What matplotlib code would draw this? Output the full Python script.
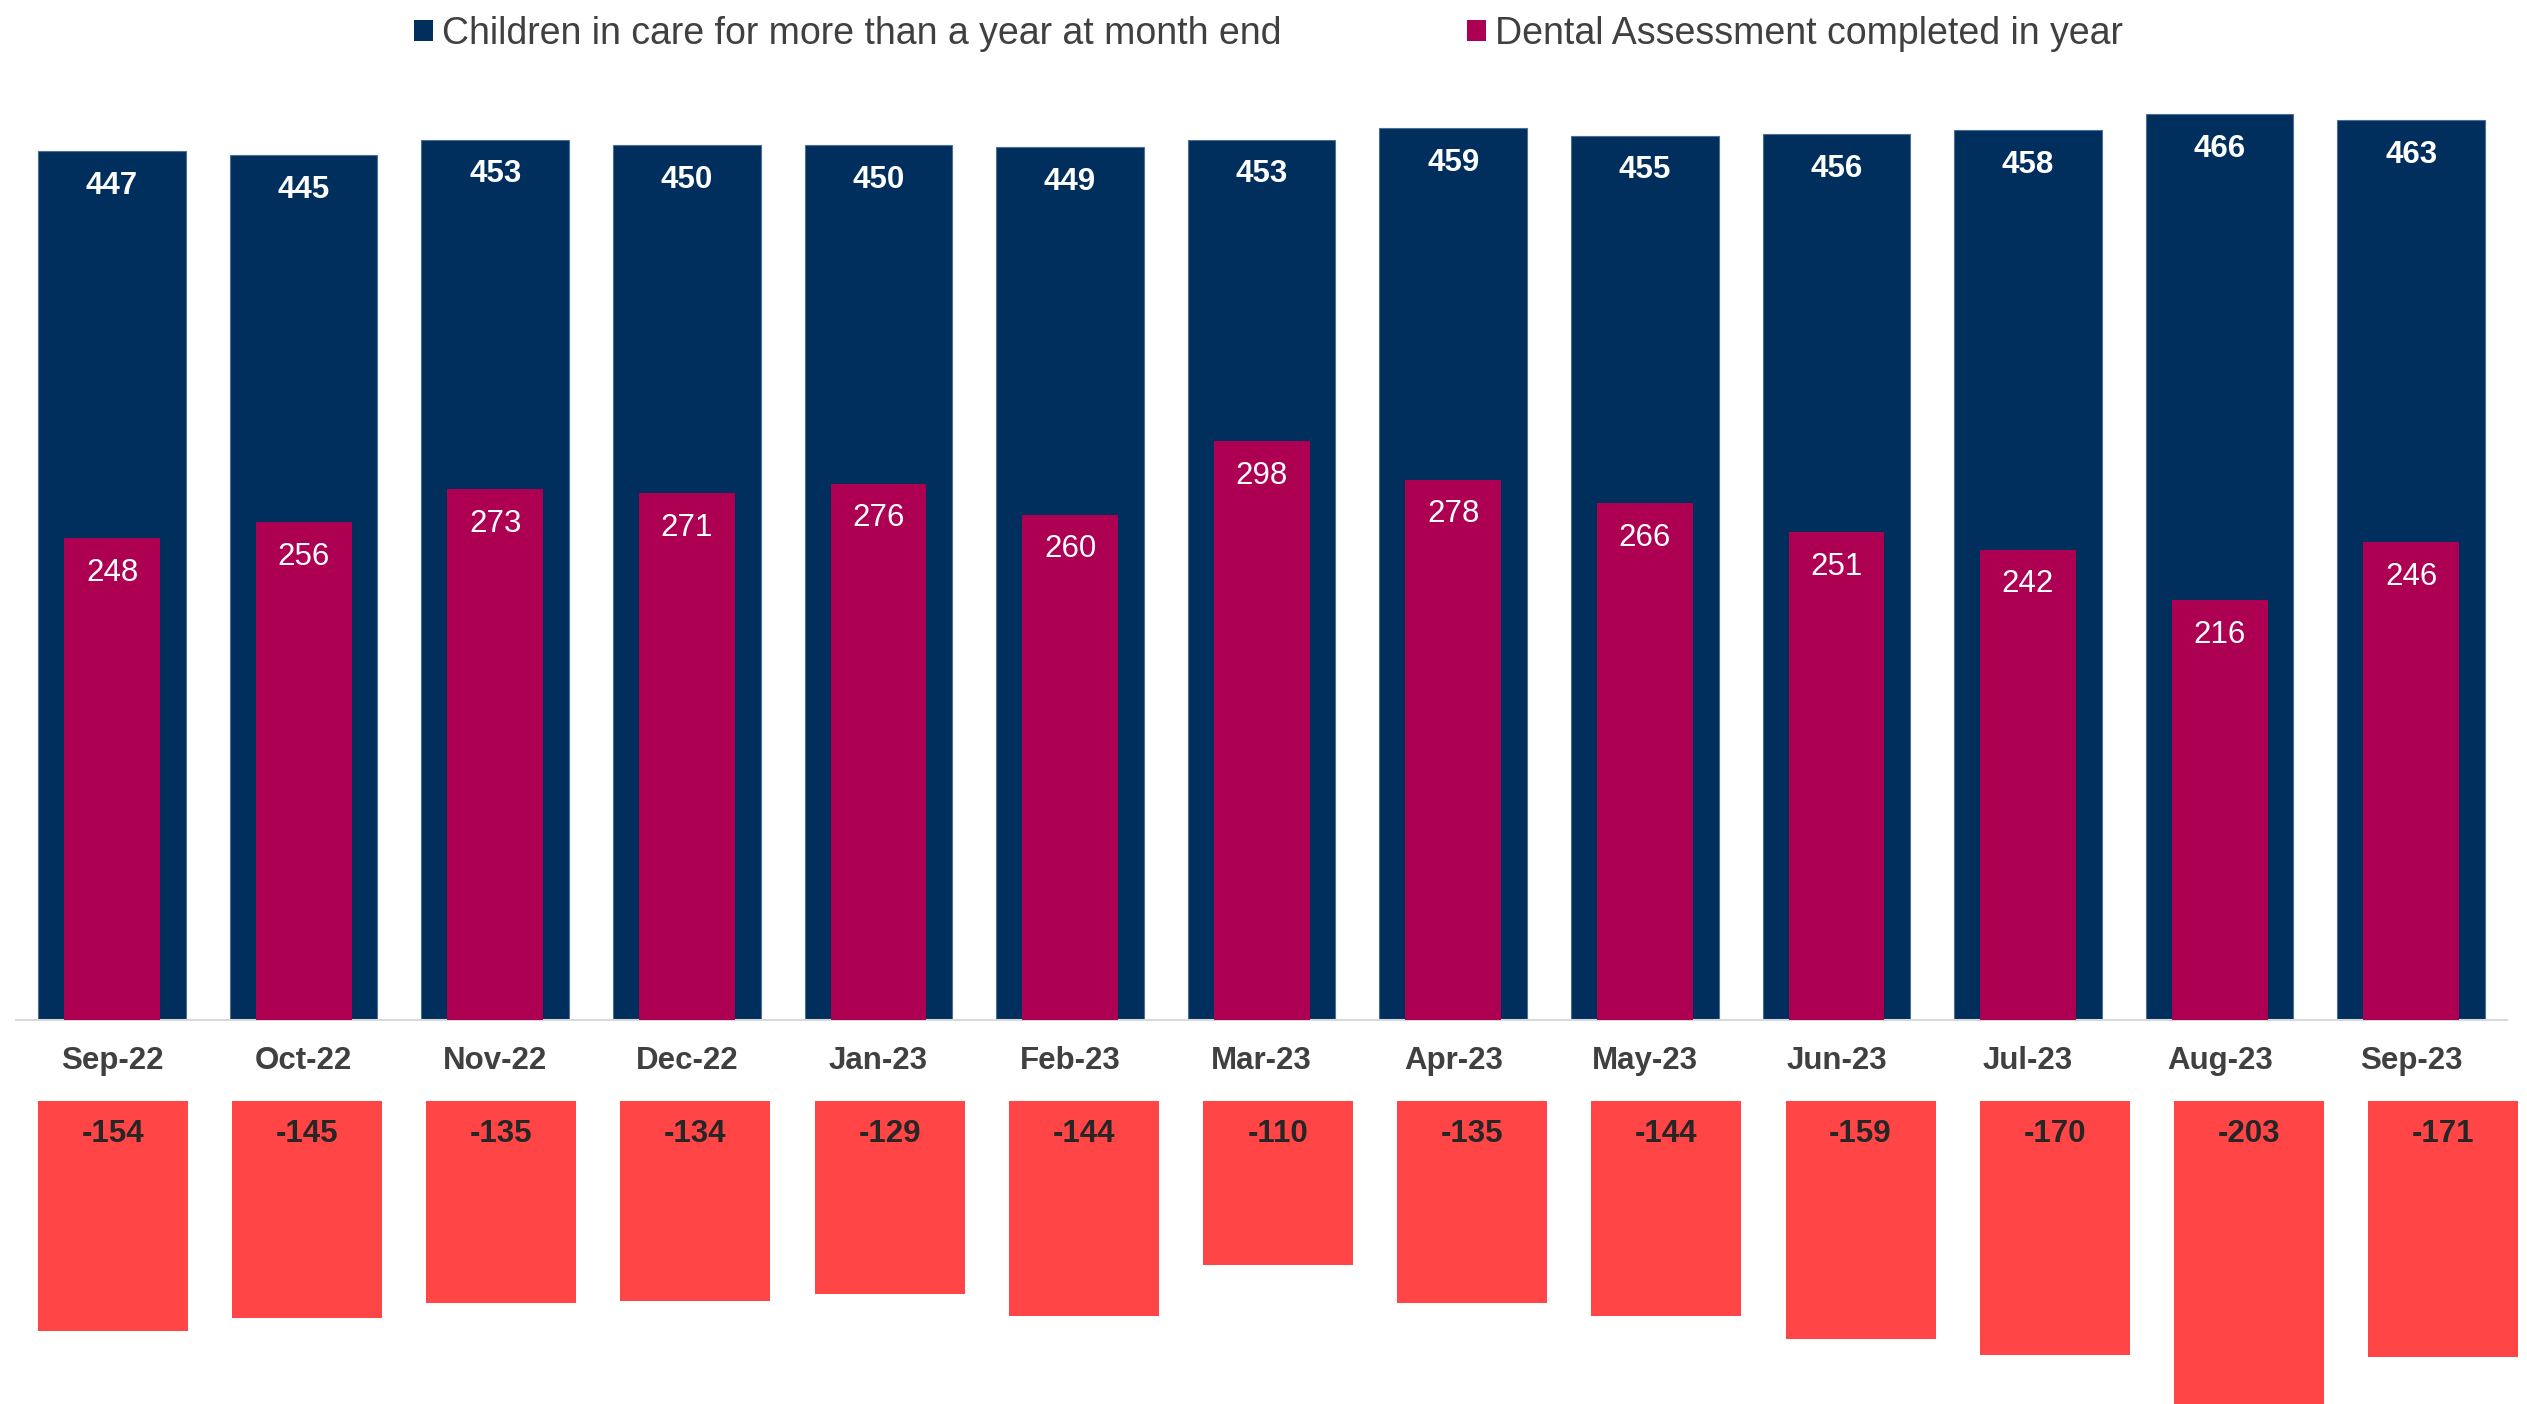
import matplotlib
matplotlib.use("Agg")
import matplotlib.pyplot as plt
from matplotlib.patches import Patch

months = ["Sep-22", "Oct-22", "Nov-22", "Dec-22", "Jan-23", "Feb-23", "Mar-23",
          "Apr-23", "May-23", "Jun-23", "Jul-23", "Aug-23", "Sep-23"]
children_in_care = [447, 445, 453, 450, 450, 449, 453, 459, 455, 456, 458, 466, 463]
dental_done = [248, 256, 273, 271, 276, 260, 298, 278, 266, 251, 242, 216, 246]
difference = [-154, -145, -135, -134, -129, -144, -110, -135, -144, -159, -170, -203, -171]

NAVY = "#002E5D"
CRIMSON = "#AD0052"
RED = "#FF4545"
GREY_TXT = "#404040"

plt.rcParams["font.family"] = ["Liberation Sans", "DejaVu Sans"]

W, H = 2527, 1404
fig = plt.figure(figsize=(W / 100, H / 100), dpi=100)

# main axes (navy + crimson)
ax = fig.add_axes([16.2 / W, (H - 1020) / H, 2490.8 / W, 971.7 / H])
x = list(range(len(months)))
ax.bar(x, children_in_care, width=0.77, color=NAVY, edgecolor="#4d6f92", linewidth=0.8, zorder=2)
ax.bar(x, dental_done, width=0.5, color=CRIMSON, linewidth=0, zorder=3)
ax.set_xlim(-0.5, len(months) - 0.5)
ax.set_ylim(0, 500)
ax.set_xticks(x)
ax.set_xticklabels(months, fontsize=22.5, fontweight="bold", color=GREY_TXT)
ax.tick_params(axis="x", length=0, pad=19)
ax.set_yticks([])
for s in ["top", "right", "left"]:
    ax.spines[s].set_visible(False)
ax.spines["bottom"].set_color("#d9d9d9")
ax.spines["bottom"].set_linewidth(1.5)
ax.patch.set_alpha(0)

for xi, v in zip(x, children_in_care):
    ax.annotate(str(v), (xi, v), xytext=(0, -25), textcoords="offset points",
                ha="center", va="center", fontsize=22.5, fontweight="bold", color="white", zorder=5)
for xi, v in zip(x, dental_done):
    ax.annotate(str(v), (xi, v), xytext=(0, -25), textcoords="offset points",
                ha="center", va="center", fontsize=22.5, color="white", zorder=5)

# difference axes (red)
ax2 = fig.add_axes([15.9 / W, (H - 1415) / H, 2524.2 / W, 314 / H])
ax2.bar(x, difference, width=0.7725, color=RED, linewidth=0)
ax2.set_xlim(-0.5, len(months) - 0.5)
ax2.set_ylim(-210, 0)
ax2.axis("off")
ax2.patch.set_alpha(0)
for xi, v in zip(x, difference):
    ax2.annotate(str(v), (xi, 0), xytext=(0, -23.5), textcoords="offset points",
                 ha="center", va="center", fontsize=22.5, fontweight="bold", color="#262626")

# legend
handles = [Patch(facecolor=NAVY, edgecolor="none"), Patch(facecolor=CRIMSON, edgecolor="none")]
labels = ["Children in care for more than a year at month end", "Dental Assessment completed in year"]
leg = fig.legend(handles, labels, loc="center left", bbox_to_anchor=(414 / W, 1 - 34 / H),
                 ncol=2, frameon=False, fontsize=27, handlelength=0.5, handleheight=0.5,
                 handletextpad=0.25, columnspacing=4.95, borderpad=0, borderaxespad=0)
for t in leg.get_texts():
    t.set_color(GREY_TXT)

fig.savefig("out.png", dpi=100, facecolor="white")
